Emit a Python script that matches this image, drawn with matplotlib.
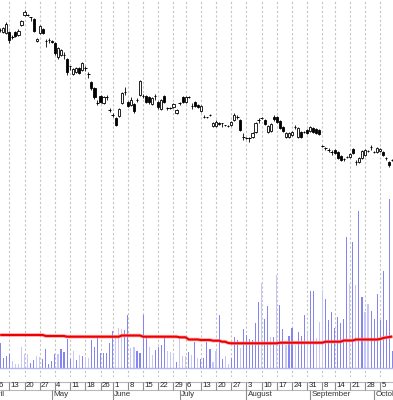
import matplotlib
matplotlib.use("Agg")
import matplotlib.pyplot as plt
import numpy as np
import pandas as pd

# Trading calendar (2009), chart shows Apr 7 .. Oct 9
HOLIDAYS = ["2009-04-10", "2009-05-25", "2009-07-03", "2009-09-07"]
MONTH_NAMES = ["January", "February", "March", "April", "May", "June", "July",
               "August", "September", "October", "November", "December"]

# Daily candles (price)
open_ = [47.0, 46.8, 46.7, 46.8, 46.3, 46.8, 46.5, 47.5, 48.5, 48.5,
         48.3, 48.1, 45.9, 46.7, 47.1, 45.9, 46.0, 45.9, 45.7, 44.3,
         44.5, 44.5, 44.1, 43.4, 42.6, 42.8, 43.2, 43.0, 43.2, 42.6,
         41.8, 41.2, 39.7, 40.4, 39.7, 40.3, 39.0, 38.5, 38.2, 38.4,
         39.7, 40.8, 39.8, 39.5, 39.6, 40.0, 40.5, 40.4, 40.4, 40.3,
         39.6, 40.4, 39.8, 39.1, 40.4, 39.2, 39.2, 39.3, 38.7, 39.7,
         40.3, 39.8, 40.3, 39.4, 39.8, 39.5, 38.9, 38.3, 38.3, 38.5,
         37.4, 37.4, 37.7, 37.7, 37.5, 37.4, 37.5, 38.0, 38.3, 38.0,
         36.3, 36.2, 36.2, 36.3, 36.8, 38.0, 38.2, 38.0, 36.8, 36.9,
         38.3, 38.3, 37.9, 37.3, 36.3, 36.3, 36.5, 37.3, 36.3, 36.8,
         36.8, 37.0, 36.9, 37.2, 37.1, 37.0, 35.4, 35.2, 35.0, 34.8,
         35.0, 34.8, 34.4, 34.1, 34.3, 34.3, 35.1, 33.8, 33.8, 34.2,
         34.5, 34.9, 35.3, 34.8, 34.8, 34.9, 34.8, 34.2, 33.8, 34.0]
high = [47.2, 47.3, 47.8, 46.9, 46.5, 46.9, 47.1, 48.0, 49.0, 48.6,
        48.35, 48.2, 46.2, 47.5, 47.2, 46.1, 46.2, 46.0, 45.8, 45.3,
        45.1, 44.8, 44.2, 43.45, 43.2, 43.3, 43.3, 43.8, 43.4, 42.8,
        41.9, 41.3, 40.0, 40.5, 40.4, 40.5, 39.2, 38.7, 38.3, 39.2,
        40.8, 41.3, 39.9, 40.3, 39.7, 40.2, 42.0, 40.6, 40.5, 40.4,
        40.3, 40.6, 39.9, 40.1, 40.5, 39.35, 39.3, 39.7, 39.1, 39.8,
        40.4, 40.4, 40.4, 39.7, 39.9, 39.6, 39.5, 38.5, 38.35, 38.6,
        37.8, 38.0, 37.8, 37.75, 37.55, 37.5, 37.9, 38.7, 38.5, 38.1,
        36.7, 36.3, 36.3, 36.8, 37.8, 38.2, 38.3, 38.1, 37.5, 37.7,
        38.5, 38.4, 38.0, 37.4, 36.8, 36.8, 36.9, 37.5, 37.3, 36.9,
        36.9, 37.1, 37.4, 37.3, 37.2, 37.1, 35.5, 35.3, 35.2, 35.0,
        35.1, 34.9, 34.5, 34.2, 34.4, 34.7, 35.2, 34.0, 34.3, 35.0,
        35.1, 35.0, 35.5, 34.9, 35.3, 35.2, 34.9, 34.3, 33.9, 34.1]
low = [46.8, 46.7, 46.6, 45.7, 46.1, 46.3, 46.4, 47.4, 48.4, 48.4,
       47.9, 46.8, 45.8, 46.6, 46.6, 45.3, 45.7, 45.7, 44.5, 44.1,
       44.4, 44.1, 42.5, 43.0, 42.5, 42.7, 42.6, 42.9, 42.9, 42.2,
       41.0, 40.1, 39.5, 39.7, 39.6, 40.0, 38.8, 38.3, 37.4, 38.3,
       39.6, 40.5, 39.3, 39.4, 38.7, 39.8, 40.4, 40.2, 39.7, 39.6,
       39.5, 40.0, 39.1, 39.0, 39.7, 39.05, 39.1, 39.2, 38.6, 39.5,
       39.7, 39.7, 40.2, 39.1, 39.3, 39.2, 38.8, 38.2, 38.25, 38.4,
       37.3, 37.3, 37.5, 37.3, 37.45, 37.3, 37.4, 37.9, 38.1, 36.9,
       36.0, 36.1, 35.8, 36.2, 36.7, 37.7, 38.1, 37.5, 36.7, 36.8,
       37.9, 37.7, 37.1, 36.8, 36.2, 36.2, 36.4, 37.1, 36.2, 36.2,
       36.7, 36.6, 36.8, 36.7, 36.6, 36.5, 35.3, 35.0, 34.8, 34.5,
       34.6, 34.1, 33.9, 33.9, 34.2, 34.2, 34.6, 33.5, 33.7, 34.1,
       34.4, 34.8, 35.0, 34.7, 34.7, 34.8, 34.4, 34.0, 33.3, 33.9]
close = [47.05, 47.2, 47.6, 46.0, 46.3, 46.4, 46.9, 47.9, 48.8, 48.5,
         48.3, 46.9, 46.1, 47.4, 46.7, 45.9, 46.0, 45.8, 44.7, 45.2,
         45.0, 44.5, 42.8, 43.4, 43.1, 43.2, 42.7, 43.7, 43.2, 42.6,
         41.2, 40.3, 39.7, 39.8, 40.3, 40.3, 39.0, 38.5, 37.5, 39.1,
         40.7, 40.8, 39.4, 40.0, 38.9, 40.0, 41.9, 40.4, 39.8, 39.8,
         40.2, 40.4, 39.3, 40.0, 39.8, 39.2, 39.2, 39.6, 39.0, 39.7,
         39.8, 40.3, 40.3, 39.4, 39.4, 39.3, 39.4, 38.3, 38.3, 38.5,
         37.7, 37.8, 37.6, 37.7, 37.5, 37.4, 37.8, 38.5, 38.3, 37.0,
         36.3, 36.2, 36.2, 36.7, 37.7, 38.0, 38.2, 37.6, 37.4, 37.6,
         38.1, 37.8, 37.2, 36.9, 36.7, 36.7, 36.8, 37.3, 37.2, 36.3,
         36.8, 36.7, 37.3, 36.8, 36.7, 36.6, 35.4, 35.2, 35.0, 34.8,
         34.7, 34.2, 34.0, 34.1, 34.3, 34.6, 34.7, 33.8, 34.2, 34.9,
         35.0, 34.9, 35.3, 34.8, 35.2, 35.1, 34.5, 34.2, 33.5, 34.0]

# Daily volume (thousands), shade flag (1 = pale bar), volume average
volume = [247, 97, 120, 140, 70, 40, 40, 207, 140, 140,
          53, 80, 123, 113, 87, 190, 40, 70, 140, 140,
          187, 160, 290, 90, 173, 80, 130, 120, 113, 97,
          280, 213, 307, 147, 153, 153, 253, 370, 303, 397,
          387, 380, 530, 197, 213, 173, 147, 530, 313, 213,
          130, 180, 207, 230, 307, 173, 163, 140, 63, 297,
          123, 123, 163, 130, 263, 103, 87, 97, 263, 187,
          63, 173, 530, 87, 120, 40, 103, 307, 280, 197,
          387, 330, 287, 280, 453, 663, 847, 490, 620, 313,
          307, 930, 630, 387, 230, 320, 397, 230, 363, 320,
          530, 347, 773, 773, 297, 463, 780, 690, 480, 560,
          400, 510, 450, 490, 1313, 840, 1263, 830, 1573, 713,
          560, 640, 570, 490, 740, 480, 970, 480, 1690, 170]
pale = [0, 0, 0, 0, 1, 1, 1, 1, 1, 1,
        0, 0, 1, 1, 0, 0, 0, 0, 0, 1,
        0, 0, 0, 0, 1, 0, 1, 0, 1, 1,
        0, 0, 0, 0, 0, 0, 0, 0, 1, 1,
        1, 0, 0, 1, 1, 0, 0, 0, 0, 1,
        1, 0, 0, 0, 0, 1, 1, 1, 0, 1,
        1, 1, 0, 1, 0, 1, 0, 0, 0, 0,
        1, 1, 0, 0, 1, 1, 0, 0, 0, 1,
        0, 0, 0, 0, 0, 0, 1, 0, 0, 1,
        0, 1, 0, 0, 1, 0, 0, 1, 0, 0,
        0, 1, 0, 0, 1, 1, 1, 0, 0, 0,
        0, 0, 0, 0, 0, 1, 0, 1, 0, 0,
        1, 1, 0, 0, 0, 0, 0, 0, 0, 0]
vol_avg = [330, 330, 330, 330, 330, 330, 330, 330, 330, 330,
           330, 330, 330, 330, 330, 320, 320, 320, 320, 320,
           320, 320, 313, 313, 313, 313, 313, 313, 313, 313,
           313, 313, 313, 313, 313, 313, 313, 313, 313, 313,
           325, 325, 325, 325, 325, 325, 325, 313, 313, 313,
           313, 313, 313, 313, 313, 313, 313, 313, 313, 307,
           307, 307, 285, 285, 285, 285, 280, 280, 280, 280,
           273, 273, 273, 263, 263, 250, 247, 247, 247, 247,
           247, 247, 247, 247, 247, 247, 247, 247, 247, 247,
           247, 247, 253, 253, 253, 253, 253, 253, 253, 253,
           253, 253, 253, 253, 253, 253, 253, 263, 263, 263,
           263, 263, 263, 275, 275, 275, 275, 285, 285, 285,
           285, 285, 285, 285, 285, 290, 300, 305, 310, 315]

# pixel geometry of the 393x400 picture
W, H = 393, 400
PLOT_BOTTOM = 377      # bottom of the price/volume area
VOL_BASE = 368         # volume zero line
PX_PER_DAY = 3.04
X0 = 0.2               # pixel of first bar


def trading_days():
    days = pd.bdate_range("2009-04-01", "2009-10-09")
    return days[~days.isin(pd.to_datetime(HOLIDAYS))]


days = trading_days()
pos = np.arange(len(days)) - 4          # Apr 7 -> 0
x = pos[4:]

# first trading day of each week / month
week_start = [i for i in range(len(days))
              if i == 0 or days[i].weekday() <= days[i - 1].weekday()]
month_start = [i for i in range(len(days))
               if i == 0 or days[i].month != days[i - 1].month]

fig = plt.figure(figsize=(W / 100, H / 100), dpi=100)
fig.patch.set_facecolor("white")
xlim = (-X0 / PX_PER_DAY, (W - X0) / PX_PER_DAY)
rect = [0, (H - PLOT_BOTTOM) / H, 1, PLOT_BOTTOM / H]

# volume layer (bottom), also carries the week grid
vax = fig.add_axes(rect)
vax.set_xlim(*xlim)
vpx = 10.0  # thousands per pixel
vax.set_ylim(-(PLOT_BOTTOM - VOL_BASE) * vpx, VOL_BASE * vpx)
vax.set_axis_off()

grid_x = [pos[i] for i in week_start]
vax.vlines(grid_x, -(PLOT_BOTTOM - VOL_BASE) * vpx, VOL_BASE * vpx,
           color="#c4c4c4", lw=0.8, linestyles=(0, (2, 2)), zorder=0)

# volume bars + average
colors = ["#c6c6f8" if p else "#8585f0" for p in pale]
vax.bar(x, volume, width=0.38, color=colors, linewidth=0, zorder=2)
vax.axhline(0, color="#b4b4f4", lw=1.0, zorder=3)
vax.plot(x, vol_avg, color="#ff9a9a", lw=2.6, alpha=0.8, zorder=4, solid_capstyle="butt")
vax.plot(x, vol_avg, color="#ee0000", lw=1.5, zorder=5, solid_capstyle="butt")

# price layer on top
ax = fig.add_axes(rect, sharex=vax)
ax.set_ylim(50 - PLOT_BOTTOM / 10.0, 50)
ax.set_axis_off()

# candlesticks
o = np.array(open_)
c = np.array(close)
ax.vlines(x, low, high, color="black", lw=0.6, zorder=3)
body = np.abs(c - o)
doji = body < 0.08
full = ~doji
fills = ["white" if cc > oo else "black" for oo, cc in zip(o[full], c[full])]
ax.bar(x[full], body[full], bottom=np.minimum(o, c)[full], width=0.72,
       color=fills, edgecolor="black", linewidth=0.6, zorder=4)
ax.hlines(o[doji], x[doji] - 0.4, x[doji] + 0.4, color="black", lw=0.7, zorder=4)

# date axis: week labels row + month labels row
dax = fig.add_axes([0, 0, 1, (H - PLOT_BOTTOM) / H])
dax.set_xlim(*xlim)
dax.set_ylim(0, H - PLOT_BOTTOM)
dax.set_axis_off()
row_top = H - 381.5
row_mid = H - 390
dax.axhline(row_top, color="#b8b8b8", lw=0.8)
dax.axhline(row_mid, color="#b8b8b8", lw=0.8)
for i in week_start:
    dax.vlines(pos[i], row_mid, row_top, color="#8c8c8c", lw=0.8)
    dax.text(pos[i] + 1.4 / PX_PER_DAY, (row_mid + row_top) / 2, str(days[i].day),
             fontsize=5.6, family="Liberation Sans", color="#222222",
             ha="left", va="center", clip_on=False)
for i in month_start:
    dax.vlines(pos[i], 0, row_mid, color="#8c8c8c", lw=0.8)
    dax.text(pos[i] + 1.2 / PX_PER_DAY, row_mid / 2, MONTH_NAMES[days[i].month - 1],
             fontsize=5.8, family="Liberation Sans", color="#333333",
             ha="left", va="center", clip_on=False)

fig.savefig("out.png", dpi=100, facecolor="white")
